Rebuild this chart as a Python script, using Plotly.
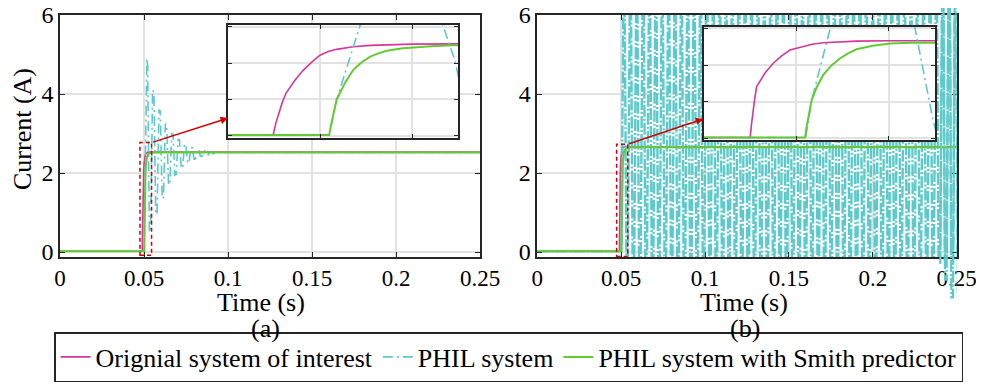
import plotly.graph_objects as go

# the page body adds an 8 px margin, so the figure is 8 px smaller than the window
W, H = 976, 379
OFF = 8

# ---------------- data: panel (a) ----------------
orig_a_t = [0, 0.04898, 0.04904, 0.0491, 0.04918, 0.04926, 0.04945, 0.04964, 0.04982, 0.0500,
            0.05018, 0.05036, 0.05054, 0.05072, 0.0511, 0.05145, 0.052, 0.053, 0.25]
orig_a_y = [0.02, 0.02, 0.35, 0.62, 0.92, 1.17, 1.52, 1.81, 2.03, 2.22,
            2.32, 2.38, 2.42, 2.45, 2.49, 2.51, 2.525, 2.53, 2.53]

smith_a_t = [0, 0.0502, 0.05024, 0.05028, 0.05032, 0.05036, 0.05054, 0.05072, 0.0509, 0.05109,
             0.05127, 0.05145, 0.0518, 0.05217, 0.0525, 0.0529, 0.054, 0.056, 0.25]
smith_a_y = [0.02, 0.02, 0.3, 0.55, 0.78, 0.99, 1.45, 1.81, 2.02, 2.18,
             2.27, 2.34, 2.41, 2.45, 2.475, 2.49, 2.51, 2.52, 2.52]

phil_a_t = [0, 0.0502, 0.05036, 0.05087, 0.0513, 0.0517, 0.0522, 0.05267, 0.05293, 0.0532,
            0.0540, 0.0551, 0.0559, 0.0570, 0.0578, 0.0589, 0.0597, 0.0608, 0.0616, 0.0627,
            0.0635, 0.0646, 0.0654, 0.0665, 0.0673, 0.0684, 0.0692, 0.0703, 0.0711, 0.0722,
            0.0730, 0.0741, 0.0749, 0.0760, 0.0768, 0.0779, 0.0787, 0.0798, 0.0806, 0.0817,
            0.0825, 0.0836, 0.0844, 0.0855, 0.0863, 0.0874, 0.0882, 0.0893, 0.0901, 0.0912,
            0.0920, 0.095, 0.25]
phil_a_y = [0.02, 0.02, 0.99, 3.05, 4.75, 4.9, 4.7, 3.05, 2.09, 0.5,
            0.55, 4.1, 4.05, 0.95, 1.0, 3.6, 3.57, 1.35, 1.38, 3.25,
            3.22, 1.7, 1.72, 3.0, 2.98, 1.95, 1.97, 2.85, 2.84, 2.12,
            2.13, 2.73, 2.72, 2.25, 2.26, 2.65, 2.64, 2.35, 2.36, 2.6,
            2.6, 2.42, 2.42, 2.56, 2.56, 2.46, 2.46, 2.54, 2.54, 2.49,
            2.49, 2.52, 2.52]

# ---------------- data: panel (b) ----------------
orig_b_t = [0, 0.049, 0.04903, 0.04906, 0.0491, 0.04914, 0.04932, 0.0495, 0.04968, 0.04986,
            0.0501, 0.05034, 0.05058, 0.05094, 0.0513, 0.052, 0.053, 0.25]
orig_b_y = [0.02, 0.02, 0.4, 0.75, 1.1, 1.41, 1.78, 2.05, 2.25, 2.41,
            2.5, 2.57, 2.61, 2.64, 2.655, 2.665, 2.665, 2.665]

smith_b_t = [0, 0.05019, 0.05022, 0.05026, 0.0503, 0.05033, 0.05045, 0.05058, 0.05076, 0.05094,
             0.05112, 0.0513, 0.05165, 0.05203, 0.0525, 0.05297, 0.054, 0.056, 0.25]
smith_b_y = [0.02, 0.02, 0.3, 0.55, 0.82, 1.04, 1.42, 1.73, 1.99, 2.18,
             2.32, 2.43, 2.53, 2.59, 2.61, 2.62, 2.64, 2.65, 2.65]

# first swing of the PHIL current
phil_b_first_t = [0, 0.0502, 0.05033, 0.05073, 0.0513, 0.0521, 0.05257, 0.05296, 0.0531]
phil_b_first_y = [0.02, 0.02, 1.04, 2.99, 6.15, 6.15, 2.99, 0.47, -0.15]

# sustained oscillation: start time of every rising edge, level reached at the top and bottom
phil_b_rise_t = [0.0540, 0.0578, 0.0616, 0.0654, 0.0692, 0.0730, 0.0768, 0.0806, 0.0844, 0.0882,
                 0.0920, 0.0958, 0.0996, 0.1034, 0.1072, 0.1110, 0.1148, 0.1186, 0.1224, 0.1262,
                 0.1300, 0.1338, 0.1376, 0.1414, 0.1452, 0.1490, 0.1528, 0.1566, 0.1604, 0.1642,
                 0.1680, 0.1718, 0.1756, 0.1794, 0.1832, 0.1870, 0.1908, 0.1946, 0.1984, 0.2022,
                 0.2060, 0.2098, 0.2136, 0.2174, 0.2212, 0.2250, 0.2288, 0.2326, 0.2364, 0.2402,
                 0.2440, 0.2478]
phil_b_top = [6.15, 6.15, 6.15, 6.15, 6.15, 6.15, 6.15, 6.15, 6.15, 6.15,
              6.15, 6.15, 6.15, 6.15, 6.15, 6.15, 6.15, 6.15, 6.15, 6.15,
              6.15, 6.15, 6.15, 6.15, 6.15, 6.15, 6.15, 6.15, 6.15, 6.15,
              6.15, 6.15, 6.15, 6.15, 6.15, 6.15, 6.15, 6.15, 6.15, 6.15,
              6.15, 6.15, 6.15, 6.15, 6.15, 6.15, 6.15, 6.15, 6.2, 6.6,
              7.2, 7.2]
phil_b_bottom = [-0.15, -0.15, -0.15, -0.15, -0.15, -0.15, -0.15, -0.15, -0.15, -0.15,
                 -0.15, -0.15, -0.15, -0.15, -0.15, -0.15, -0.15, -0.15, -0.15, -0.15,
                 -0.15, -0.15, -0.15, -0.15, -0.15, -0.15, -0.15, -0.15, -0.15, -0.15,
                 -0.15, -0.15, -0.15, -0.15, -0.15, -0.15, -0.15, -0.15, -0.15, -0.15,
                 -0.15, -0.15, -0.15, -0.15, -0.15, -0.15, -0.15, -0.15, -0.3, -0.7,
                 -1.15, -1.15]
# shape of one cycle (offsets from rise start): top reached, top left, bottom reached
phil_b_edge = [0.0011, 0.0019, 0.0028]

x_ticks = [0, 0.05, 0.1, 0.15, 0.2, 0.25]
x_tick_text = ["0", "0.05", "0.1", "0.15", "0.2", "0.25"]
y_ticks = [0, 2, 4, 6]
y_tick_text = ["0", "2", "4", "6"]

series_names = ["Orignial system of interest", "PHIL system", "PHIL system with Smith predictor"]

# ---------------- build the PHIL (b) polyline ----------------
phil_b_t = list(phil_b_first_t)
phil_b_y = list(phil_b_first_y)
prev_bot = phil_b_first_y[-1]
overflow_start = None
for r, top, bot in zip(phil_b_rise_t, phil_b_top, phil_b_bottom):
    if overflow_start is None and r >= 0.2402:
        overflow_start = len(phil_b_t)
    phil_b_t += [r, r + phil_b_edge[0], r + phil_b_edge[1], r + phil_b_edge[2]]
    phil_b_y += [prev_bot, top, top, bot]
    prev_bot = bot

# ---------------- styles ----------------
PINK = "#d4379b"
CYAN = "#5ccaca"
GREEN = "#63c934"
RED = "#d40000"
FRAME = "#262626"
GRID = "#e2e2e2"
FONT = "Liberation Serif"
DASHDOT = "10px,4px,2px,4px"
DASHDOT_B = "12px,2px,2px,2px"

fig = go.Figure()


def add_set(xa, ya, ot, oy, pt, py, st, sy, legend, cyan_w=1.6, cyan_dash=DASHDOT):
    fig.add_trace(go.Scatter(x=ot, y=oy, mode="lines", name=series_names[0],
                             line=dict(color=PINK, width=1.6), xaxis=xa, yaxis=ya,
                             showlegend=legend))
    fig.add_trace(go.Scatter(x=pt, y=py, mode="lines", name=series_names[1],
                             line=dict(color=CYAN, width=cyan_w, dash=cyan_dash), xaxis=xa,
                             yaxis=ya, showlegend=legend))
    fig.add_trace(go.Scatter(x=st, y=sy, mode="lines", name=series_names[2],
                             line=dict(color=GREEN, width=2), xaxis=xa, yaxis=ya,
                             showlegend=legend))


add_set("x", "y", orig_a_t, orig_a_y, phil_a_t, phil_a_y, smith_a_t, smith_a_y, True)
add_set("x2", "y2", orig_b_t, orig_b_y, phil_b_t, phil_b_y, smith_b_t, smith_b_y, False,
        cyan_w=2.4, cyan_dash=DASHDOT_B)
add_set("x3", "y3", orig_a_t, orig_a_y, phil_a_t, phil_a_y, smith_a_t, smith_a_y, False)
add_set("x4", "y4", orig_b_t, orig_b_y, phil_b_t, phil_b_y, smith_b_t, smith_b_y, False)
# unclipped tail of the diverging PHIL current in (b)
fig.add_trace(go.Scatter(x=phil_b_t[overflow_start:], y=phil_b_y[overflow_start:], mode="lines",
                         line=dict(color=CYAN, width=2.2, dash=DASHDOT_B), xaxis="x5",
                         yaxis="y5", showlegend=False))


def px_x(p):
    return (p - OFF) / W


def px_y(p):
    return 1 - (p - OFF) / H


main_y_dom = [px_y(257), px_y(15)]
xa_dom = [px_x(60), px_x(480)]
xb_dom = [px_x(537.3), px_x(956.7)]
ia_x_dom = [px_x(228), px_x(458)]
ia_y_dom = [px_y(138), px_y(25)]
ib_x_dom = [px_x(704), px_x(935)]
ib_y_dom = [px_y(140), px_y(27)]

SCALE = 242 / 6.125  # px per ampere on the main axes
y5_range = [6 - (OFF + H - 15) / SCALE, 6 + (15 - OFF) / SCALE]

main_x = dict(range=[0, 0.25], tickvals=x_ticks, ticktext=x_tick_text, showgrid=True,
              gridcolor=GRID, gridwidth=1.5, showline=True, linecolor=FRAME, linewidth=1.5,
              mirror="ticks", ticks="inside", ticklen=5, tickwidth=1.2, tickcolor=FRAME,
              tickfont=dict(family=FONT, size=23, color="black"), zeroline=False,
              fixedrange=True, automargin=False, ticklabeloverflow="allow")
main_y = dict(range=[-0.125, 6], tickvals=y_ticks, ticktext=y_tick_text, showgrid=True,
              gridcolor=GRID, gridwidth=1.5, showline=True, linecolor=FRAME, linewidth=1.5,
              mirror="ticks", ticks="inside", ticklen=5, tickwidth=1.2, tickcolor=FRAME,
              tickfont=dict(family=FONT, size=24, color="black"), zeroline=False,
              domain=main_y_dom, fixedrange=True, automargin=False, ticklabeloverflow="allow")
inset_x = dict(range=[0.048, 0.053], tick0=0.048, dtick=0.002, showgrid=True, gridcolor=GRID,
               gridwidth=1.5, showline=True, linecolor=FRAME, linewidth=1.5, mirror="ticks",
               ticks="inside", ticklen=4, tickwidth=1.2, tickcolor=FRAME, showticklabels=False,
               zeroline=False, automargin=False)
inset_y = dict(tick0=0, dtick=1, showgrid=True, gridcolor=GRID, gridwidth=1.5, showline=True,
               linecolor=FRAME, linewidth=1.5, mirror="ticks", ticks="inside", ticklen=4,
               tickwidth=1.2, tickcolor=FRAME, showticklabels=False, zeroline=False,
               automargin=False)

fig.update_layout(
    width=W, height=H, margin=dict(l=0, r=0, t=0, b=0, pad=0, autoexpand=False),
    paper_bgcolor="white", plot_bgcolor="rgba(0,0,0,0)",
    font=dict(family=FONT, color="black"),
    xaxis=dict(main_x, domain=xa_dom, anchor="y"),
    yaxis=dict(main_y, anchor="x"),
    xaxis2=dict(main_x, domain=xb_dom, anchor="y2"),
    yaxis2=dict(main_y, anchor="x2"),
    xaxis3=dict(inset_x, domain=ia_x_dom, anchor="y3"),
    yaxis3=dict(inset_y, range=[-0.06, 3.05], domain=ia_y_dom, anchor="x3"),
    xaxis4=dict(inset_x, domain=ib_x_dom, anchor="y4"),
    yaxis4=dict(inset_y, range=[-0.05, 3.04], domain=ib_y_dom, anchor="x4"),
    xaxis5=dict(range=[0, 0.25], domain=xb_dom, anchor="y5", visible=False),
    yaxis5=dict(range=y5_range, domain=[0, 1], anchor="x5", visible=False),
    legend=dict(orientation="h", x=px_x(508.5), xanchor="center", y=px_y(382), yanchor="bottom",
                font=dict(family=FONT, size=26, color="black"), bgcolor="white",
                bordercolor=FRAME, borderwidth=1.5, itemclick=False),
    showlegend=True,
)

# white backgrounds of the insets and the red zoom boxes
fig.add_shape(type="rect", xref="x3", yref="y3", x0=0.048, x1=0.053, y0=-0.06, y1=3.05,
              fillcolor="white", line=dict(width=0), layer="below")
fig.add_shape(type="rect", xref="x4", yref="y4", x0=0.048, x1=0.053, y0=-0.05, y1=3.04,
              fillcolor="white", line=dict(width=0), layer="below")
fig.add_shape(type="rect", xref="x", yref="y", x0=0.0476, x1=0.0545, y0=-0.08, y1=2.77,
              line=dict(color=RED, width=1.5, dash="4px,3px"), layer="above")
fig.add_shape(type="rect", xref="x2", yref="y2", x0=0.0473, x1=0.0539, y0=-0.11, y1=2.73,
              line=dict(color=RED, width=1.5, dash="4px,3px"), layer="above")

fig.add_annotation(x=0.1, y=3.39, xref="x", yref="y", ax=0.0545, ay=2.77, axref="x", ayref="y",
                   text="", showarrow=True, arrowhead=2, arrowsize=1, arrowwidth=1.5,
                   arrowcolor=RED)
fig.add_annotation(x=0.099, y=3.37, xref="x2", yref="y2", ax=0.0539, ay=2.73, axref="x2",
                   ayref="y2", text="", showarrow=True, arrowhead=2, arrowsize=1, arrowwidth=1.5,
                   arrowcolor=RED)

lab = dict(family=FONT, size=26, color="black")
fig.add_annotation(x=px_x(261), y=px_y(302), xref="paper", yref="paper", text="Time (s)",
                   showarrow=False, font=lab, xanchor="center", yanchor="middle")
fig.add_annotation(x=px_x(744), y=px_y(302), xref="paper", yref="paper", text="Time (s)",
                   showarrow=False, font=lab, xanchor="center", yanchor="middle")
fig.add_annotation(x=px_x(265), y=px_y(328), xref="paper", yref="paper", text="(a)",
                   showarrow=False, font=lab, xanchor="center", yanchor="middle")
fig.add_annotation(x=px_x(745), y=px_y(328), xref="paper", yref="paper", text="(b)",
                   showarrow=False, font=lab, xanchor="center", yanchor="middle")
fig.add_annotation(x=px_x(23), y=px_y(129), xref="paper", yref="paper", text="Current (A)",
                   showarrow=False, font=lab, textangle=-90, xanchor="center", yanchor="middle")

fig.write_html("out.html")
